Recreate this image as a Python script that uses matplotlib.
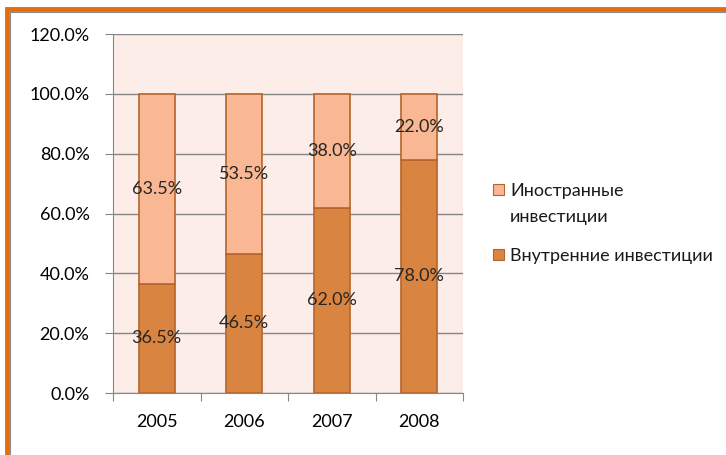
import matplotlib.pyplot as plt
from matplotlib.patches import Rectangle
from matplotlib.ticker import FuncFormatter

years = ['2005', '2006', '2007', '2008']
domestic = [36.5, 46.5, 62.0, 78.0]
foreign = [63.5, 53.5, 38.0, 22.0]
labels = ['Иностранные\nинвестиции', 'Внутренние инвестиции']

plt.rcParams['font.family'] = ['Lato', 'DejaVu Sans']

W, H = 726, 455
fig = plt.figure(figsize=(7.26, 4.55), dpi=100)
fig.patch.set_facecolor('white')

# orange frame around the chart area
fig.add_artist(Rectangle((7 / W, -0.05), 1.2, (H - 9) / H + 0.05,
                         transform=fig.transFigure, fill=False,
                         edgecolor='#E46C0A', linewidth=3.5))
fig.add_artist(Rectangle((10 / W, -0.05), 1.2, (H - 12) / H + 0.05,
                         transform=fig.transFigure, fill=False,
                         edgecolor='#8C8C8C', linewidth=0.8))

ax = fig.add_axes([113 / W, 62 / H, 350 / W, 359 / H])
ax.set_facecolor('#FCEDE8')

dark = '#DA8441'
light = '#F9B793'
edge = '#B5652C'

x = range(len(years))
ax.bar(x, domestic, width=0.41, color=dark, edgecolor=edge, linewidth=1.2, zorder=3)
ax.bar(x, foreign, width=0.41, bottom=domestic, color=light, edgecolor=edge,
       linewidth=1.2, zorder=3)

for i in x:
    ax.text(i, domestic[i] / 2, f'{domestic[i]:.1f}%', ha='center', va='center',
            fontsize=13, color='#262626', zorder=4)
    ax.text(i, domestic[i] + foreign[i] / 2, f'{foreign[i]:.1f}%', ha='center',
            va='center', fontsize=13, color='#262626', zorder=4)

ax.set_xlim(-0.5, 3.5)
ax.set_ylim(0, 120)
ax.set_yticks(range(0, 121, 20))
ax.yaxis.set_major_formatter(FuncFormatter(lambda v, p: f'{v:.1f}%'))
ax.grid(axis='y', color='#868686', linewidth=1, zorder=1)
ax.set_xticks([-0.5, 0.5, 1.5, 2.5, 3.5])
ax.set_xticklabels([])
ax.set_xticks(list(x), minor=True)
ax.set_xticklabels(years, minor=True)
ax.tick_params(axis='x', which='minor', length=0, pad=15, labelsize=13)
ax.tick_params(axis='x', which='major', length=6, color='#868686', direction='out')
ax.tick_params(axis='y', length=6, color='#868686', pad=11, labelsize=13)
for s in ['top', 'right']:
    ax.spines[s].set_visible(False)
for s in ['left', 'bottom']:
    ax.spines[s].set_color('#868686')

# legend, handle aligned with the first line of each label
for lab, col, ytop in [(labels[0], light, 190), (labels[1], dark, 255)]:
    fig.add_artist(Rectangle((493 / W, 1 - (ytop + 5) / H), 11 / W, 11 / H,
                             transform=fig.transFigure, facecolor=col,
                             edgecolor=edge, linewidth=0.8))
    fig.text(510 / W, 1 - (ytop - 7) / H, lab, ha='left', va='top',
             fontsize=13, color='#1a1a1a', linespacing=1.75)

plt.savefig('out.png', dpi=100)
